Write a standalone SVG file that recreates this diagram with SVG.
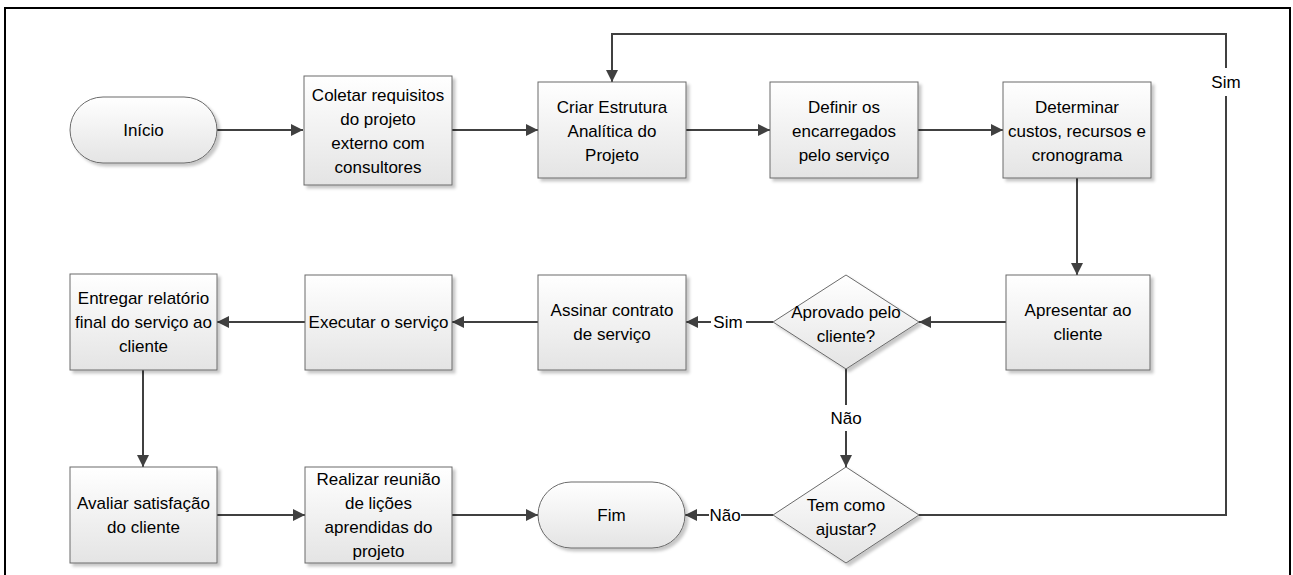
<svg xmlns="http://www.w3.org/2000/svg" width="1293" height="575" viewBox="0 0 1293 575">
<defs>
<linearGradient id="g" x1="0" y1="0" x2="0" y2="1">
<stop offset="0" stop-color="#ffffff"/>
<stop offset="1" stop-color="#e4e4e4"/>
</linearGradient>
<filter id="sh" x="-10%" y="-10%" width="130%" height="130%">
<feDropShadow dx="3" dy="3" stdDeviation="1.5" flood-color="#000" flood-opacity="0.22"/>
</filter>
<marker id="ah" viewBox="0 0 12 12" refX="12" refY="6" markerWidth="12" markerHeight="12" markerUnits="userSpaceOnUse" orient="auto">
<path d="M0,0 L12,6 L0,12 Z" fill="#404040"/>
</marker>
</defs>
<style>
.n{fill:url(#g);stroke:#6a6a6a;stroke-width:1;filter:url(#sh)}
.t{font-family:"Liberation Sans",Arial,sans-serif;font-size:17px;fill:#000;text-anchor:middle}
.c{fill:none;stroke:#404040;stroke-width:2}
.a{marker-end:url(#ah)}
</style>
<rect x="0" y="0" width="1293" height="575" fill="#fff"/>
<rect x="5" y="8" width="1285" height="580" fill="none" stroke="#000" stroke-width="2"/>

<g id="connectors">
<line class="c a" x1="217" y1="130" x2="303" y2="130"/>
<line class="c a" x1="452" y1="130" x2="538" y2="130"/>
<line class="c a" x1="686" y1="130" x2="770" y2="130"/>
<line class="c a" x1="918" y1="130" x2="1003" y2="130"/>
<line class="c a" x1="1077" y1="178" x2="1077" y2="275"/>
<line class="c a" x1="1006" y1="322" x2="919" y2="322"/>
<line class="c" x1="773" y1="322" x2="746" y2="322"/>
<line class="c a" x1="711" y1="322" x2="686" y2="322"/>
<line class="c a" x1="538" y1="322" x2="452" y2="322"/>
<line class="c a" x1="305" y1="322" x2="217" y2="322"/>
<line class="c a" x1="143" y1="370" x2="143" y2="467"/>
<line class="c a" x1="217" y1="515" x2="305" y2="515"/>
<line class="c a" x1="452" y1="515" x2="538" y2="515"/>
<line class="c" x1="846" y1="369" x2="846" y2="405"/>
<line class="c a" x1="846" y1="431" x2="846" y2="467"/>
<line class="c" x1="773" y1="515" x2="741" y2="515"/>
<line class="c a" x1="709" y1="515" x2="685" y2="515"/>
<polyline class="c" points="919,515 1226,515 1226,96"/>
<polyline class="c a" points="1226,68 1226,34 612,34 612,82"/>
<text class="t" x="728" y="328">Sim</text>
<text class="t" x="846" y="424">Não</text>
<text class="t" x="725" y="521">Não</text>
<text class="t" x="1226" y="88">Sim</text>
</g>

<g id="inicio">
<rect class="n" x="70" y="97" width="147" height="66" rx="33" ry="33"/>
<text class="t" x="143.5" y="136">Início</text>
</g>
<g id="coletar">
<rect class="n" x="304" y="76" width="148" height="109"/>
<text class="t" x="378" y="101">Coletar requisitos</text>
<text class="t" x="378" y="125">do projeto</text>
<text class="t" x="378" y="149">externo com</text>
<text class="t" x="378" y="173">consultores</text>
</g>
<g id="criar">
<rect class="n" x="538" y="82" width="148" height="96"/>
<text class="t" x="612" y="113">Criar Estrutura</text>
<text class="t" x="612" y="137">Analítica do</text>
<text class="t" x="612" y="161">Projeto</text>
</g>
<g id="definir">
<rect class="n" x="770" y="82" width="148" height="96"/>
<text class="t" x="844" y="113">Definir os</text>
<text class="t" x="844" y="137">encarregados</text>
<text class="t" x="844" y="161">pelo serviço</text>
</g>
<g id="determinar">
<rect class="n" x="1003" y="82" width="148" height="96"/>
<text class="t" x="1077" y="113">Determinar</text>
<text class="t" x="1077" y="137">custos, recursos e</text>
<text class="t" x="1077" y="161">cronograma</text>
</g>
<g id="apresentar">
<rect class="n" x="1006" y="275" width="144" height="95"/>
<text class="t" x="1078" y="316">Apresentar ao</text>
<text class="t" x="1078" y="340">cliente</text>
</g>
<g id="aprovado">
<polygon class="n" points="846,275 919,322 846,369 773,322"/>
<text class="t" x="846" y="318">Aprovado pelo</text>
<text class="t" x="846" y="342">cliente?</text>
</g>
<g id="assinar">
<rect class="n" x="538" y="275" width="148" height="95"/>
<text class="t" x="612" y="316">Assinar contrato</text>
<text class="t" x="612" y="340">de serviço</text>
</g>
<g id="executar">
<rect class="n" x="305" y="275" width="147" height="95"/>
<text class="t" x="378.5" y="328">Executar o serviço</text>
</g>
<g id="entregar">
<rect class="n" x="70" y="274" width="147" height="96"/>
<text class="t" x="143.5" y="304">Entregar relatório</text>
<text class="t" x="143.5" y="328">final do serviço ao</text>
<text class="t" x="143.5" y="352">cliente</text>
</g>
<g id="avaliar">
<rect class="n" x="70" y="467" width="147" height="96"/>
<text class="t" x="143.5" y="509">Avaliar satisfação</text>
<text class="t" x="143.5" y="533">do cliente</text>
</g>
<g id="realizar">
<rect class="n" x="305" y="467" width="147" height="96"/>
<text class="t" x="378.5" y="485">Realizar reunião</text>
<text class="t" x="378.5" y="509">de lições</text>
<text class="t" x="378.5" y="533">aprendidas do</text>
<text class="t" x="378.5" y="557">projeto</text>
</g>
<g id="fim">
<rect class="n" x="538" y="482" width="147" height="66" rx="33" ry="33"/>
<text class="t" x="611.5" y="521">Fim</text>
</g>
<g id="tem">
<polygon class="n" points="846,467 919,515 846,563 773,515"/>
<text class="t" x="846" y="511">Tem como</text>
<text class="t" x="846" y="535">ajustar?</text>
</g>
</svg>
